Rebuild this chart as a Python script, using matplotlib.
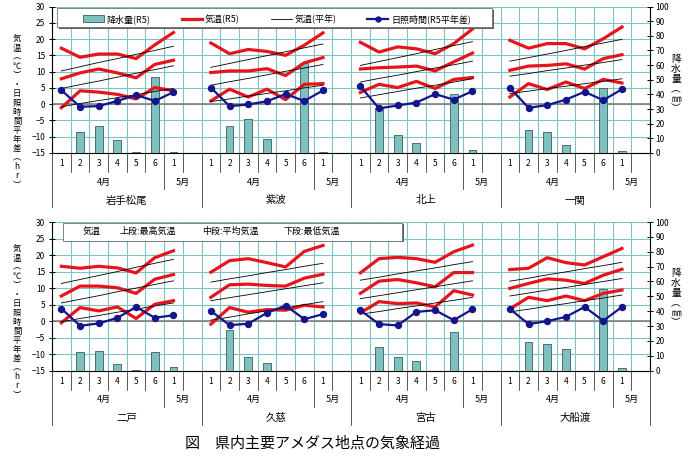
import matplotlib
matplotlib.use("Agg")
import matplotlib.pyplot as plt
from matplotlib.lines import Line2D
from matplotlib.patches import Patch, Rectangle

plt.rcParams['font.family'] = ['Noto Sans CJK JP', 'DejaVu Sans']

# stations, in order: top row then bottom row
stations = ["岩手松尾", "紫波", "北上", "一関", "二戸", "久慈", "宮古", "大船渡"]
periods = ["1", "2", "3", "4", "5", "6", "1"]

# R5 temperatures (half-month periods, deg C)
tmax = [
    [17.2, 14.4, 15.4, 15.4, 14.0, 18.2, 22.0],
    [18.8, 15.5, 16.8, 16.2, 15.0, 18.1, 21.9],
    [19.0, 16.0, 17.6, 17.0, 15.5, 18.6, 23.1],
    [19.6, 17.2, 18.6, 18.6, 17.0, 20.1, 23.7],
    [16.6, 16.0, 16.6, 16.1, 14.6, 19.2, 21.3],
    [14.8, 18.3, 18.9, 17.7, 16.4, 21.1, 22.9],
    [14.6, 18.9, 19.3, 18.9, 17.8, 21.0, 23.0],
    [15.6, 16.0, 19.2, 17.7, 17.0, 19.5, 22.0],
]
tmean = [
    [7.8, 9.6, 10.8, 9.6, 8.1, 12.2, 13.5],
    [9.7, 10.2, 10.2, 10.9, 8.8, 12.7, 14.3],
    [10.8, 11.2, 11.4, 11.7, 10.2, 13.0, 15.7],
    [10.4, 11.7, 11.9, 12.4, 10.8, 14.0, 15.2],
    [7.6, 10.6, 10.6, 10.1, 8.4, 12.7, 14.1],
    [7.2, 11.0, 11.2, 10.8, 10.6, 13.0, 14.2],
    [8.4, 12.1, 12.6, 11.6, 10.4, 14.7, 14.7],
    [9.9, 11.4, 12.8, 12.4, 11.4, 13.9, 15.7],
]
tmin = [
    [-1.1, 4.1, 3.7, 3.0, 1.6, 5.1, 4.1],
    [1.0, 4.6, 2.2, 4.6, 1.4, 6.1, 6.3],
    [3.6, 6.1, 5.1, 7.0, 4.8, 7.6, 8.2],
    [2.2, 6.3, 4.5, 6.8, 4.8, 7.6, 6.5],
    [-0.5, 4.1, 3.1, 4.3, 0.8, 5.1, 6.2],
    [-0.9, 4.1, 2.7, 3.5, 3.3, 4.8, 4.3],
    [2.5, 5.9, 5.3, 5.5, 4.3, 9.2, 7.9],
    [3.7, 7.2, 6.2, 7.6, 6.2, 8.4, 9.4],
]

# normal temperatures
nmax = [
    [10.2, 11.5, 12.8, 14.0, 15.3, 16.5, 17.8],
    [11.3, 12.5, 13.7, 14.9, 16.1, 17.3, 18.5],
    [11.9, 13.1, 14.3, 15.5, 16.8, 18.0, 19.2],
    [13.2, 14.3, 15.4, 16.5, 17.7, 18.8, 19.9],
    [11.4, 12.6, 13.8, 15.0, 16.3, 17.5, 18.7],
    [11.8, 12.8, 13.7, 14.7, 15.6, 16.6, 17.5],
    [12.4, 13.3, 14.3, 15.2, 16.1, 17.1, 18.0],
    [12.1, 13.0, 14.0, 14.9, 15.9, 16.8, 17.8],
]
nmean = [
    [4.8, 6.0, 7.1, 8.3, 9.5, 10.6, 11.8],
    [5.8, 6.9, 7.9, 9.0, 10.1, 11.1, 12.2],
    [6.8, 7.9, 8.9, 10.0, 11.1, 12.1, 13.2],
    [8.6, 9.4, 10.3, 11.1, 12.0, 12.8, 13.7],
    [5.5, 6.6, 7.7, 8.9, 10.0, 11.1, 12.2],
    [6.2, 7.1, 8.0, 8.9, 9.8, 10.7, 11.6],
    [6.8, 7.7, 8.6, 9.5, 10.4, 11.3, 12.2],
    [7.6, 8.5, 9.4, 10.2, 11.1, 12.0, 12.9],
]
nmin = [
    [-0.8, 0.2, 1.1, 2.0, 2.9, 3.9, 4.8],
    [0.8, 1.6, 2.5, 3.3, 4.1, 5.0, 5.8],
    [1.9, 2.9, 3.9, 4.9, 5.8, 6.8, 7.8],
    [3.3, 4.0, 4.8, 5.5, 6.3, 7.0, 7.8],
    [-0.2, 0.8, 1.7, 2.7, 3.6, 4.6, 5.5],
    [0.3, 1.2, 2.2, 3.1, 4.0, 5.0, 5.9],
    [2.1, 2.9, 3.8, 4.6, 5.5, 6.3, 7.2],
    [2.8, 3.6, 4.5, 5.3, 6.2, 7.0, 7.9],
]

# sunshine hours, difference from normal (hr)
sun = [
    [4.3, -0.8, -0.6, 1.0, 2.8, 1.0, 3.7],
    [5.1, -0.6, -0.1, 0.9, 3.1, 1.0, 4.2],
    [5.5, -1.3, -0.4, 0.5, 3.1, 1.4, 4.0],
    [5.0, -1.1, -0.3, 1.4, 3.8, 1.2, 4.6],
    [3.8, -1.4, -0.7, 1.0, 4.3, 1.0, 1.8],
    [3.1, -1.2, -0.8, 2.5, 4.7, 0.6, 2.1],
    [3.3, -0.9, -1.3, 2.8, 3.3, 0.3, 3.6],
    [3.7, -0.9, 0.0, 1.3, 4.3, 0.1, 4.3],
]

# precipitation (mm)
precip = [
    [0, 14.5, 18.6, 8.6, 0.9, 52.0, 0.4],
    [0, 18.6, 22.9, 9.3, 0, 61.7, 0.9],
    [0, 31.0, 12.4, 6.8, 0, 40.5, 2.0],
    [0, 15.8, 14.0, 5.4, 0, 44.6, 1.1],
    [0, 12.7, 13.1, 4.2, 0.6, 12.4, 2.4],
    [0, 27.3, 9.3, 5.3, 0, 0, 0],
    [0, 16.2, 9.2, 6.5, 0, 26.3, 0],
    [0, 19.3, 18.0, 14.6, 0, 55.0, 2.0],
]

red = '#e8141c'
navy = '#14148c'
bar_c = '#7cc0c0'
bar_e = '#3a5e5e'
grid_c = '#7cc4c4'

W, H = 690, 457
fig = plt.figure(figsize=(W / 100, H / 100), dpi=100)

# (top px, bottom px) of each row's plot area
row_px = [(6.5, 153.0), (222.0, 370.7)]
x_left, x_right = 52, 650
aw = x_right - x_left

def boxed(ax, axl, px0, px1, py0, py1, pbot, hpx):
    # white box with a dark shadow, placed in pixel terms of the row
    bx0 = (px0 - x_left) / aw
    bw = (px1 - px0) / aw
    by0 = (pbot - py1) / hpx
    bh = (py1 - py0) / hpx
    axl.add_patch(Rectangle((bx0 + 1.5 / aw, by0 - 1.5 / hpx), bw, bh,
                            transform=ax.transAxes, clip_on=False,
                            facecolor='#606060', edgecolor='none', zorder=5))
    axl.add_patch(Rectangle((bx0, by0), bw, bh, transform=ax.transAxes,
                            clip_on=False, facecolor='white',
                            edgecolor='#707070', lw=0.6, zorder=6))
    return by0 + bh / 2

axes_rows = []
for r, (ptop, pbot) in enumerate(row_px):
    rect = [x_left / W, 1 - pbot / H, aw / W, (pbot - ptop) / H]
    hpx = pbot - ptop

    ax = fig.add_axes(rect)
    ax.set_xlim(0, 32)
    ax.set_ylim(-15, 30)
    ax.set_yticks(range(-15, 31, 5))
    ax.set_xticks(range(33))
    ax.tick_params(axis='x', length=0, labelbottom=False)
    ax.tick_params(axis='y', direction='inout', length=4, width=0.7,
                   labelsize=6, pad=3)
    ax.grid(True, color=grid_c, lw=0.8)
    ax.set_axisbelow(True)
    ax.axhline(0, color='#808080', lw=1.2, zorder=1.5)
    for sp in ['top', 'right']:
        ax.spines[sp].set_visible(False)
    ax.spines['left'].set_linewidth(0.8)
    ax.spines['bottom'].set_linewidth(0.8)

    axp = ax.twinx()
    axp.set_ylim(0, 100)
    axp.set_yticks(range(0, 101, 10))
    axp.tick_params(axis='y', direction='inout', length=4, width=0.7,
                    labelsize=6, pad=2)
    for sp in ['top', 'left', 'bottom']:
        axp.spines[sp].set_visible(False)
    axp.spines['right'].set_linewidth(0.8)

    axl = ax.twinx()
    axl.set_ylim(-15, 30)
    axl.set_axis_off()

    trans = ax.get_xaxis_transform()
    for s in range(4):
        k = r * 4 + s
        xs = [s * 8 + j + 0.5 for j in range(7)]
        axp.bar(xs, precip[k], width=0.42, color=bar_c, edgecolor=bar_e, lw=0.6)
        for series in (tmax, tmean, tmin):
            axl.plot(xs, series[k], color=red, lw=2.3, solid_joinstyle='round')
        for series in (nmax, nmean, nmin):
            axl.plot(xs, series[k], color='black', lw=0.6)
        axl.plot(xs, sun[k], color=navy, lw=1.6, marker='o', ms=4.3)

        # category labels below the axis
        for j, lab in enumerate(periods):
            ax.text(xs[j], -11 / hpx, lab, transform=trans, ha='center',
                    va='center', fontsize=6)
        ax.text(s * 8 + 2.8, -29 / hpx, "4月", transform=trans, ha='center',
                va='center', fontsize=6.5)
        ax.text(s * 8 + 7, -29 / hpx, "5月", transform=trans, ha='center',
                va='center', fontsize=6.5)
        ax.text(s * 8 + 4, -47.5 / hpx, stations[k], transform=trans,
                ha='center', va='center', fontsize=7.5)

    # separators of the category axis
    for b in range(33):
        if b % 8 == 0:
            end = 54
        elif b % 8 == 6:
            end = 36
        else:
            end = 19
        ax.plot([b, b], [0, -end / hpx], transform=trans, clip_on=False,
                color='#404040', lw=0.6)

    axes_rows.append((ax, axl, pbot, hpx))

# legend of the top row
ax0, axl0, pb0, hpx0 = axes_rows[0]
boxed(ax0, axl0, 57, 492, 8, 27, pb0, hpx0)
handles = [
    Patch(facecolor=bar_c, edgecolor=bar_e, lw=0.6),
    Line2D([], [], color=red, lw=2.3),
    Line2D([], [], color='black', lw=0.6),
    Line2D([], [], color=navy, lw=1.6, marker='o', ms=3.5),
]
labels = ['降水量(R5)', '気温(R5)', '気温(平年)', '日照時間(R5平年差)']
leg = axl0.legend(handles, labels, ncol=4, loc='lower left',
                  bbox_to_anchor=((80 - x_left) / aw, (pb0 - 27) / hpx0,
                                  (474 - 80) / aw, 19 / hpx0),
                  bbox_transform=ax0.transAxes, mode='expand', fontsize=6.5,
                  frameon=False, borderaxespad=0, borderpad=0.35,
                  handlelength=2.3, handletextpad=0.3, handleheight=0.8)
leg.set_zorder(8)

# note box of the bottom row
ax1, axl1, pb1, hpx1 = axes_rows[1]
cy = boxed(ax1, axl1, 63, 402, 222.7, 240.7, pb1, hpx1)
for px, txt in [(83, "気温"), (120, "上段:最高気温"), (202, "中段:平均気温"),
                (283, "下段:最低気温")]:
    axl1.text((px - x_left) / aw, cy, txt, transform=ax1.transAxes,
              ha='left', va='center', fontsize=6.5, zorder=7)

# axis titles, written vertically
left_chars = ['気', '温', '︵', '℃', '︶', '・', '日', '照', '時', '間', '平',
              '年', '差', '︵', 'h', 'r', '︶']
right_chars = ['降', '水', '量', '︵', '㎜', '︶']
for cy in (112, 322):
    fig.text(17 / W, 1 - cy / H, "\n".join(left_chars), ha='center',
             va='center', fontsize=6.0, linespacing=1.02)
for cy in (84, 298):
    fig.text(676 / W, 1 - cy / H, "\n".join(right_chars), ha='center',
             va='center', fontsize=7, linespacing=0.98)

fig.text(185 / W, 1 - 443 / H, "図　県内主要アメダス地点の気象経過",
         ha='left', va='center', fontsize=10.8)

fig.savefig("out.png", dpi=100)
